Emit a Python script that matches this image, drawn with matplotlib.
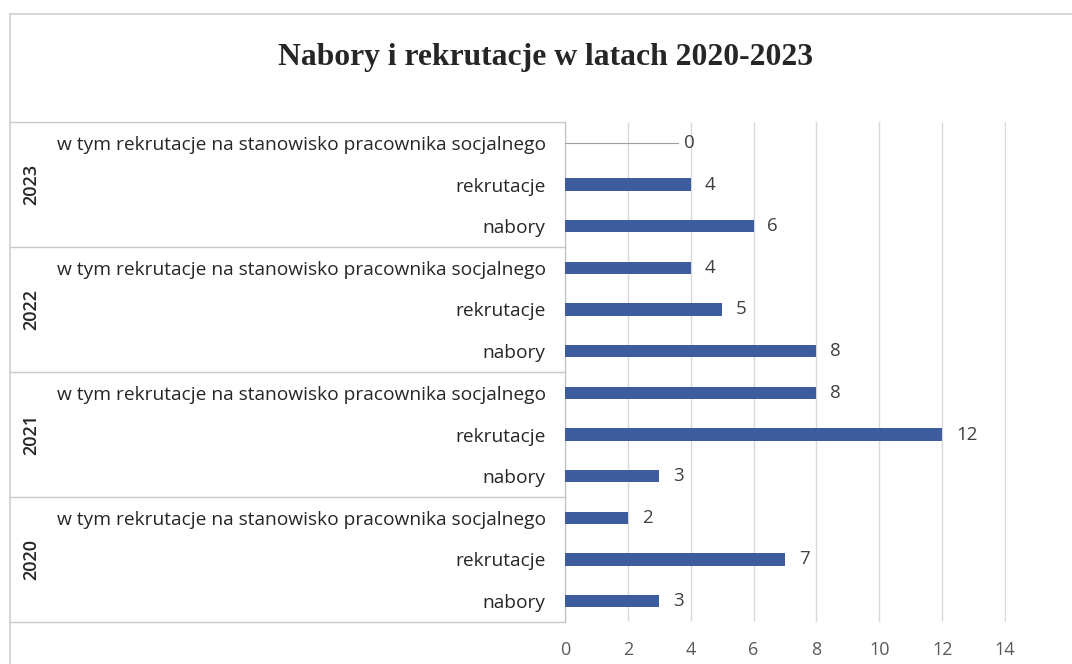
import numpy as np
import matplotlib.pyplot as plt

# Dane
lata = ['2020', '2021', '2022', '2023']
kategorie = ['nabory', 'rekrutacje',
             'w tym rekrutacje na stanowisko pracownika socjalnego']
nabory = [3, 3, 8, 6]
rekrutacje = [7, 12, 5, 4]
socjalni = [2, 8, 4, 0]
x_ticks = [0, 2, 4, 6, 8, 10, 12, 14]

W, H = 1072, 664
fig = plt.figure(figsize=(W / 100, H / 100), dpi=100)
fig.patch.set_facecolor('white')

# Obszar wykresu (w pikselach)
x0, x1 = 565, 1006
y_top, y_bot = 122, 622
ax = fig.add_axes([x0 / W, 1 - y_bot / H, (x1 - x0) / W, (y_bot - y_top) / H])

kolor = '#3d5c9e'
tekst = '#404040'
siatka = '#d9d9d9'

wartosci = []
etykiety = []
for i, rok in enumerate(lata):
    wartosci += [nabory[i], rekrutacje[i], socjalni[i]]
    etykiety += kategorie
y = np.arange(len(wartosci))

ax.barh(y, wartosci, height=0.29, color=kolor, zorder=3)
ax.set_xlim(0, 14.03)
ax.set_ylim(-0.5, len(wartosci) - 0.5)

# Etykiety wartości
for yi, v in zip(y, wartosci):
    if v == 0:
        ax.plot([0, 3.6], [yi, yi], color='#a0a0a0', lw=0.8, zorder=3)
        ax.text(3.95, yi, '0', va='center', ha='center', fontsize=13.5,
                color=tekst, family='Open Sans')
    else:
        ax.annotate(str(v), (v, yi), xytext=(10, 0), textcoords='offset points',
                    va='center', ha='left', fontsize=13.5, color=tekst,
                    family='Open Sans')

# Siatka i osie
ax.set_xticks(x_ticks)
ax.xaxis.grid(True, color=siatka, lw=1, zorder=0)
ax.tick_params(axis='x', length=0, pad=14, labelsize=13, labelcolor='#595959')
for lab in ax.get_xticklabels():
    lab.set_family('Open Sans')
for s in ['top', 'right', 'bottom']:
    ax.spines[s].set_visible(False)
ax.spines['left'].set_color('#bfbfbf')

ax.set_yticks(y)
ax.set_yticklabels(etykiety, fontsize=13.8, color='#262626', family='Open Sans')
ax.tick_params(axis='y', length=0, pad=14)

# Linie podziału grup i etykiety lat
trans = ax.get_yaxis_transform()
x_lewy = (10 - x0) / (x1 - x0)
for g in range(len(lata) + 1):
    yy = g * 3 - 0.5
    ax.plot([x_lewy, 0], [yy, yy], color='#c8c8c8', lw=1, transform=trans,
            clip_on=False)
for g, rok in enumerate(lata):
    ax.text((31 - x0) / (x1 - x0), g * 3 + 1, rok, transform=trans, rotation=90,
            ha='center', va='center', fontsize=13, color='#262626',
            family='Open Sans', fontweight='semibold')

# Ramka wykresu
fig.add_artist(plt.Line2D([10 / W, 10 / W], [0, 1 - 14 / H], color='#d0d0d0', lw=1.2))
fig.add_artist(plt.Line2D([10 / W, 1], [1 - 14 / H, 1 - 14 / H], color='#d0d0d0', lw=1.2))

fig.text(546 / W, 1 - 57 / H, 'Nabory i rekrutacje w latach 2020-2023',
         ha='center', va='center', fontsize=22.8, fontweight='bold',
         family='Liberation Serif', color='#262626')

fig.savefig('out.png', dpi=100)
